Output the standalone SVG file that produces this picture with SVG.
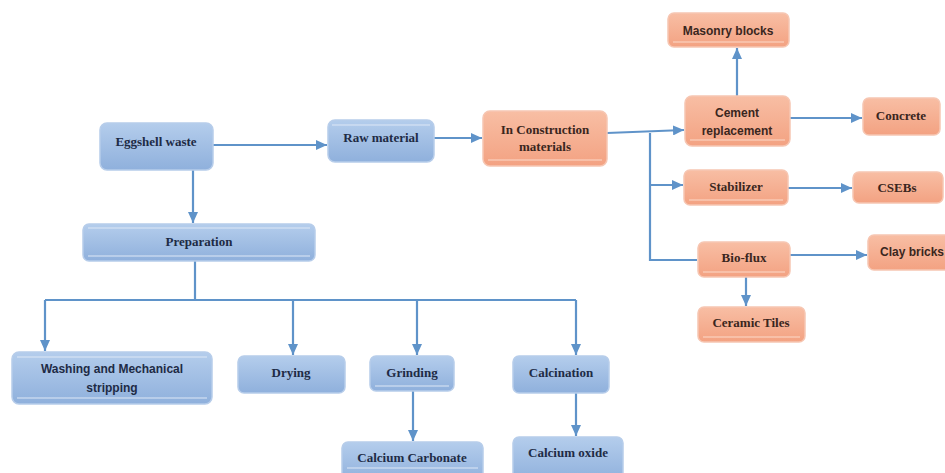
<svg xmlns="http://www.w3.org/2000/svg" width="945" height="473" viewBox="0 0 945 473">
<style>
.b{fill:url(#gb);stroke:#b7cdea;stroke-width:1.5}
.o{fill:url(#go);stroke:#f6c6b2;stroke-width:1.5}
.hl{stroke:#dde8f6;stroke-width:1.2;fill:none}
.hlo{stroke:#fbd9c9;stroke-width:1.2;fill:none}
.t{font-family:"Liberation Serif","Times New Roman",serif;font-weight:bold;font-size:13px;text-anchor:middle;fill:#1e2b45}
.to{font-family:"Liberation Serif","Times New Roman",serif;font-weight:bold;font-size:13px;text-anchor:middle;fill:#3a2620}
.s{font-family:"Liberation Sans",Arial,sans-serif;font-weight:bold;font-size:12px;text-anchor:middle}
.c{stroke:#5f93c9;stroke-width:2.2;fill:none}
.ca{stroke:#5f93c9;stroke-width:2.2;fill:none;marker-end:url(#ah)}
</style>
<defs>
<linearGradient id="gb" x1="0" y1="0" x2="0" y2="1"><stop offset="0" stop-color="#b4cdec"/><stop offset="1" stop-color="#8fb0dc"/></linearGradient>
<linearGradient id="go" x1="0" y1="0" x2="0" y2="1"><stop offset="0" stop-color="#f8bea4"/><stop offset="1" stop-color="#f3a282"/></linearGradient>
<marker id="ah" markerUnits="userSpaceOnUse" markerWidth="12" markerHeight="10" refX="11" refY="5" orient="auto"><path d="M0,0 L11,5 L0,10 Z" fill="#5f93c9"/></marker>
</defs>
<rect width="945" height="473" fill="#ffffff"/>
<g id="connectors">
<path class="ca" d="M213,145 H327"/>
<path class="ca" d="M193,170 V223"/>
<path class="ca" d="M434,138 H482"/>
<path class="ca" d="M607,133 L684,130"/>
<path class="ca" d="M737,96 V48"/>
<path class="ca" d="M790,118 H862"/>
<path class="c" d="M650,133 V260 H697"/>
<path class="ca" d="M650,185 H683"/>
<path class="ca" d="M788,188 H852"/>
<path class="ca" d="M790,255 H867"/>
<path class="ca" d="M746,277 V306"/>
<path class="c" d="M195,261 V300"/>
<path class="c" d="M45,300 H576"/>
<path class="ca" d="M45,300 V351"/>
<path class="ca" d="M293,300 V355"/>
<path class="ca" d="M417,300 V355"/>
<path class="ca" d="M576,300 V355"/>
<path class="ca" d="M413,391 V441"/>
<path class="ca" d="M576,393 V436"/>
</g>
<g id="eggshell-waste"><rect class="b" x="100" y="123" width="113" height="47" rx="7"/><text class="t" x="156" y="146">Eggshell waste</text></g>
<g id="raw-material"><rect class="b" x="328" y="120" width="106" height="42" rx="7"/><line class="hl" x1="332" y1="125" x2="430" y2="125"/><text class="t" x="381" y="142">Raw material</text></g>
<g id="preparation"><rect class="b" x="83" y="224" width="232" height="37" rx="6"/><line class="hl" x1="88" y1="228" x2="310" y2="228"/><line class="hl" x1="88" y1="256" x2="310" y2="256"/><text class="t" x="199" y="246">Preparation</text></g>
<g id="in-construction"><rect class="o" x="483" y="111" width="124" height="55" rx="7"/><line class="hlo" x1="488" y1="160" x2="602" y2="160"/><text class="to" x="545" y="134">In Construction</text><text class="to" x="545" y="151">materials</text></g>
<g id="cement-replacement"><rect class="o" x="685" y="96" width="105" height="50" rx="7"/><line class="hlo" x1="690" y1="140" x2="785" y2="140"/><text class="s" x="737" y="117" fill="#3a2620">Cement</text><text class="s" x="737" y="135" fill="#3a2620">replacement</text></g>
<g id="masonry-blocks"><rect class="o" x="668" y="13" width="121" height="34" rx="6"/><line class="hlo" x1="673" y1="42" x2="784" y2="42"/><text class="s" x="728" y="35" fill="#3a2620">Masonry blocks</text></g>
<g id="concrete"><rect class="o" x="863" y="98" width="77" height="37" rx="6"/><text class="to" x="901" y="120">Concrete</text></g>
<g id="stabilizer"><rect class="o" x="684" y="170" width="104" height="35" rx="6"/><line class="hlo" x1="689" y1="200" x2="783" y2="200"/><text class="to" x="736" y="191">Stabilizer</text></g>
<g id="csebs"><rect class="o" x="853" y="172" width="90" height="31" rx="6"/><text class="to" x="897" y="192">CSEBs</text></g>
<g id="bio-flux"><rect class="o" x="698" y="242" width="92" height="35" rx="6"/><line class="hlo" x1="703" y1="272" x2="785" y2="272"/><text class="to" x="744" y="262">Bio-flux</text></g>
<g id="clay-bricks"><rect class="o" x="868" y="235" width="85" height="35" rx="6"/><text class="s" x="912" y="256" fill="#3a2620">Clay bricks</text></g>
<g id="ceramic-tiles"><rect class="o" x="698" y="307" width="107" height="35" rx="6"/><line class="hlo" x1="703" y1="337" x2="800" y2="337"/><text class="to" x="751" y="327">Ceramic Tiles</text></g>
<g id="washing"><rect class="b" x="12" y="352" width="200" height="52" rx="7"/><line class="hl" x1="17" y1="357" x2="207" y2="357"/><line class="hl" x1="17" y1="398" x2="207" y2="398"/><text class="s" x="112" y="373" fill="#1e2b45">Washing and Mechanical</text><text class="s" x="112" y="392" fill="#1e2b45">stripping</text></g>
<g id="drying"><rect class="b" x="238" y="356" width="107" height="37" rx="6"/><text class="t" x="291" y="377">Drying</text></g>
<g id="grinding"><rect class="b" x="370" y="356" width="84" height="35" rx="6"/><line class="hl" x1="375" y1="386" x2="449" y2="386"/><text class="t" x="412" y="377">Grinding</text></g>
<g id="calcination"><rect class="b" x="513" y="356" width="96" height="37" rx="6"/><text class="t" x="561" y="377">Calcination</text></g>
<g id="calcium-carbonate"><rect class="b" x="342" y="442" width="141" height="40" rx="6"/><line class="hl" x1="347" y1="468" x2="478" y2="468"/><text class="t" x="412" y="462">Calcium Carbonate</text></g>
<g id="calcium-oxide"><rect class="b" x="513" y="437" width="110" height="45" rx="6"/><text class="t" x="568" y="457">Calcium oxide</text></g>
</svg>
